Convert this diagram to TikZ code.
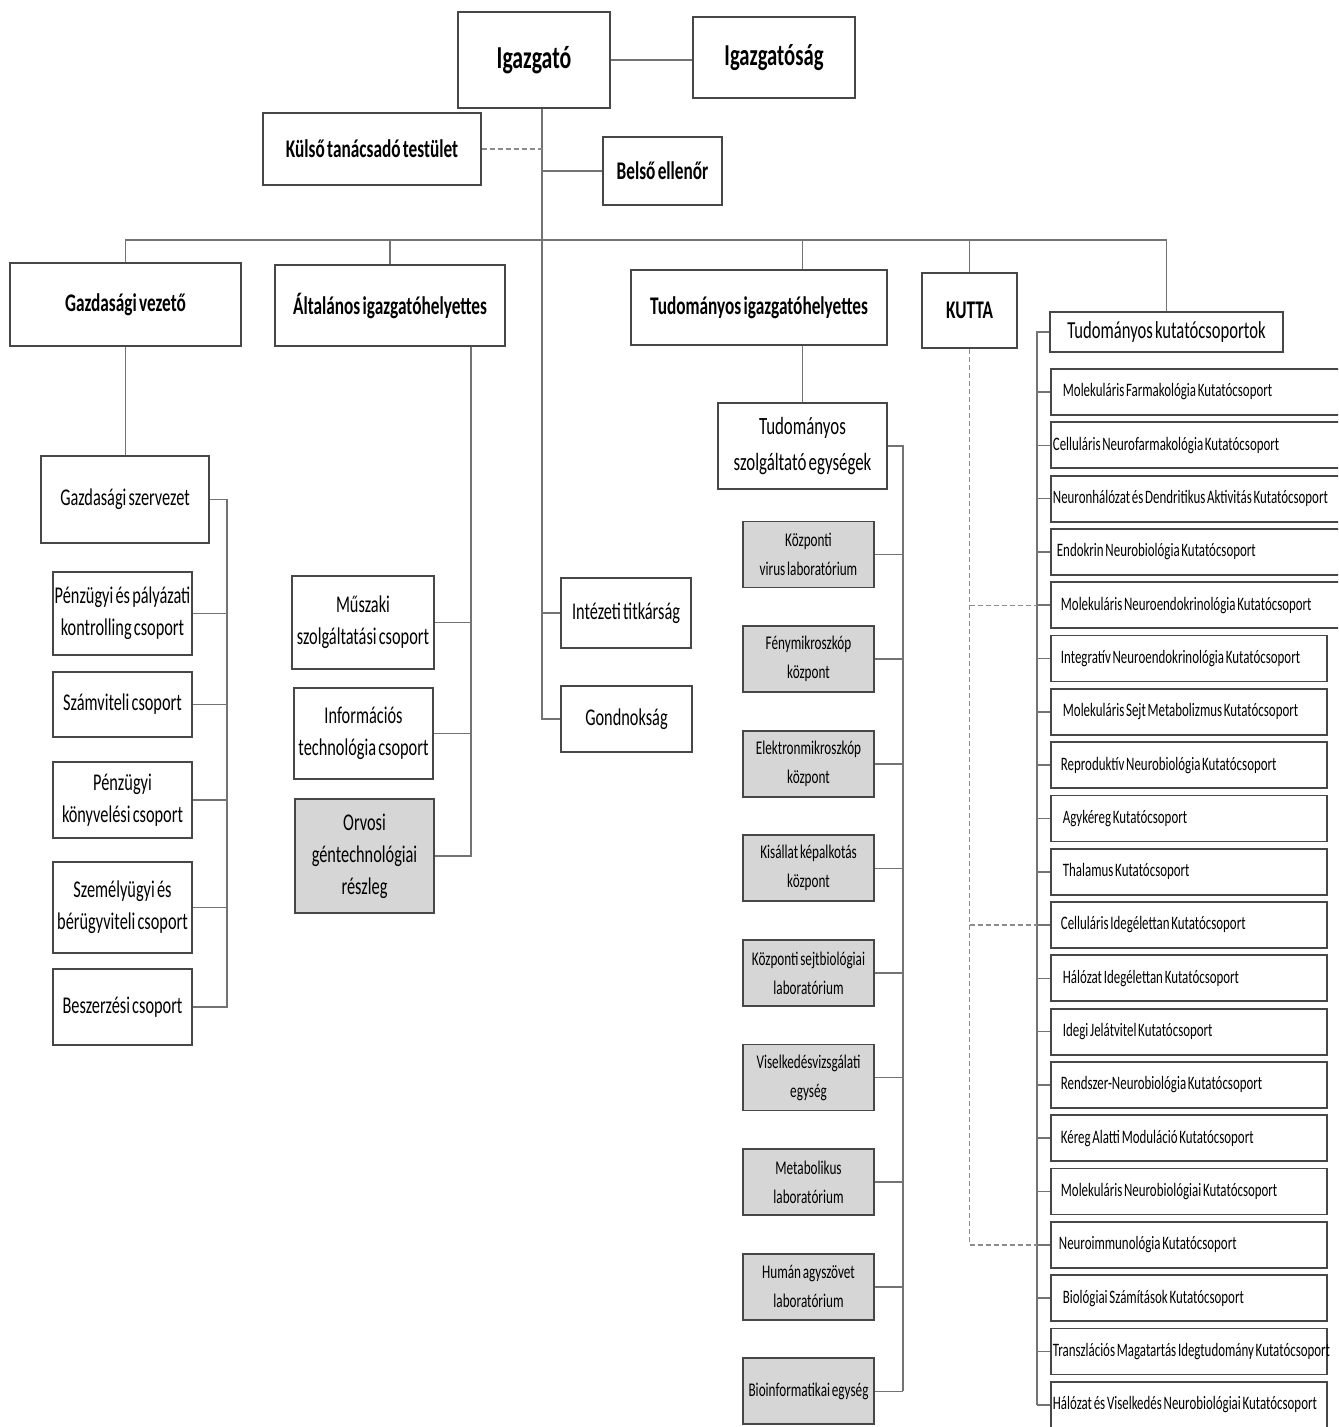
\documentclass[tikz,border=0pt]{standalone}
\usepackage{fontspec}
\setmainfont{Carlito}[FakeStretch=0.68,WordSpace=0.6]
\tikzset{
	box/.style={draw=black!72,line width=0.9pt,fill=white,inner sep=1pt,align=center},
	greybox/.style={box,fill=black!16},
	sz/.style n args={2}{minimum width=#1*0.5pt,minimum height=#2*0.5pt},
	top/.style={font=\fontsize{16}{19}\selectfont\bfseries},
	head/.style={font=\fontsize{12.7}{15}\selectfont\bfseries},
	sub/.style={font=\fontsize{12}{16}\selectfont},
	lab/.style={font=\fontsize{9.7}{14.5}\selectfont},
	grp/.style={font=\fontsize{9.5}{11}\selectfont,align=flush left,text width=(#1)*0.5pt},
	conn/.style={draw=black!55,line width=0.8pt},
	kuttaline/.style={draw=black!45,line width=0.7pt,dash pattern=on 2.5pt off 1.5pt}
}
\begin{document}
\begin{tikzpicture}[x=0.5pt,y=-0.5pt]
		\clip (0,0) rectangle (1338,1427);
		
		\node[box,top,sz={152}{96}] (igaz) at (534,60) {Igazgató};
		\node[box,top,sz={162}{81},font=\fontsize{15.2}{18}\selectfont\bfseries] (igazsag) at (774,57.5) {Igazgatóság};
		\node[box,head,sz={218}{72}] (kulso) at (372,149) {Külső tanácsadó testület};
		\node[box,head,sz={119}{68}] (belso) at (662.5,171) {Belső ellenőr};
		
		\node[box,head,sz={231}{83}] (gazdv) at (125.5,304.5) {Gazdasági vezető};
		\node[box,head,sz={230}{81}] (altal) at (390,305.5) {Általános igazgatóhelyettes};
		\node[box,head,sz={256}{75}] (tudigh) at (759,307.5) {Tudományos igazgatóhelyettes};
		\node[box,head,sz={95}{75}] (kutta) at (969.5,310.5) {KUTTA};
		\node[box,sub,sz={233}{40},font=\fontsize{12.2}{15}\selectfont] (tkcs) at (1166.5,332) {Tudományos kutatócsoportok};
		
		\node[box,sub,sz={168}{87}] (gszerv) at (125,499.5) {Gazdasági szervezet};
		\node[box,sub,sz={139}{83}] (pkontr) at (122.5,613.5) {Pénzügyi és pályázati\\kontrolling csoport};
		\node[box,sub,sz={139}{65}] (szamv) at (122.5,704.5) {Számviteli csoport};
		\node[box,sub,sz={139}{76}] (konyv) at (122.5,800) {Pénzügyi\\könyvelési csoport};
		\node[box,sub,sz={139}{91}] (szemely) at (122.5,907.5) {Személyügyi és\\bérügyviteli csoport};
		\node[box,sub,sz={139}{76}] (besz) at (122.5,1007) {Beszerzési csoport};
		
		\node[box,sub,sz={142}{93}] (muszaki) at (363,622.5) {Műszaki\\szolgáltatási csoport};
		\node[box,sub,sz={139}{91}] (infotech) at (363.5,733.5) {Információs\\technológia csoport};
		\node[greybox,sub,sz={139}{114}] (orvosi) at (364.5,856) {Orvosi\\géntechnológiai\\részleg};
		
		\node[box,sub,sz={130}{70}] (intez) at (626,613) {Intézeti titkárság};
		\node[box,sub,sz={131}{66}] (gond) at (626.5,719) {Gondnokság};
		
		\node[box,sub,sz={169}{86},font=\fontsize{12.4}{18}\selectfont] (tszolg) at (802.5,446) {Tudományos\\szolgáltató egységek};
		
		\coordinate (bus) at (542,240);
		\coordinate (grail) at (227,0);
		\coordinate (arail) at (471,0);
		\coordinate (srail) at (903,0);
		\coordinate (krail) at (1037,0);
		
		\draw[conn] (igaz.east) -- (igaz.east -| igazsag.west);
		\draw[conn] ([xshift=4pt]igaz.south) coordinate (trunk) -- (trunk |- gond.west) -- (gond.west);
		\draw[conn] (trunk |- belso.west) -- (belso.west);
		\draw[conn] (trunk |- intez.west) -- (intez.west);
		\draw[kuttaline] (kulso.east) -- (trunk |- kulso.east);
		
		\draw[conn] (gazdv.north) -- (gazdv.north |- bus) -- (bus -| tkcs.north) -- (tkcs.north);
		\draw[conn] (altal.north) -- (altal.north |- bus);
		\draw[conn] (tudigh.north -| tszolg.north) -- (tszolg.north |- bus);
		\draw[conn] (kutta.north) -- (kutta.north |- bus);
		\draw[conn] (tszolg.north) -- (tszolg.north |- tudigh.south);
		
		\draw[conn] (gszerv.north -| gazdv.south) -- (gazdv.south);
		\draw[conn] (gszerv.east) -- (gszerv.east -| grail) -- (besz.east -| grail) -- (besz.east);
		\foreach \n in {pkontr,szamv,konyv,szemely}
			\draw[conn] (\n.east) -- (\n.east -| grail);
		
		\draw[conn] (altal.south -| arail) -- (orvosi.east -| arail) -- (orvosi.east);
		\draw[conn] (muszaki.east) -- (muszaki.east -| arail);
		\draw[conn] (infotech.east) -- (infotech.east -| arail);
		
		\foreach \n/\txt [count=\i from 0] in {virus/{Központi\\virus laboratórium},
			feny/{Fénymikroszkóp\\központ},
			elektr/{Elektronmikroszkóp\\központ},
			kisallat/{Kisállat képalkotás\\központ},
			sejtbio/{Központi sejtbiológiai\\laboratórium},
			viselk/{Viselkedésvizsgálati\\egység},
			metab/{Metabolikus\\laboratórium},
			human/{Humán agyszövet\\laboratórium},
			bioinf/{Bioinformatikai egység}}{
			\node[greybox,lab,sz={131}{66}] (\n) at (808.5,{554.5+104.6*\i}) {\txt};
			\draw[conn] (\n.east) -- (\n.east -| srail);
		}
		\draw[conn] (tszolg.east) -- (tszolg.east -| srail) -- (bioinf.east -| srail);
		
		\foreach \pad/\txt [count=\i] in {6/Molekuláris Farmakológia Kutatócsoport,
			1/Celluláris Neurofarmakológia Kutatócsoport,
			1/Neuronhálózat és Dendritikus Aktivitás Kutatócsoport,
			3/Endokrin Neurobiológia Kutatócsoport,
			5/Molekuláris Neuroendokrinológia Kutatócsoport,
			5/Integratív Neuroendokrinológia Kutatócsoport,
			6/Molekuláris Sejt Metabolizmus Kutatócsoport,
			5/Reproduktív Neurobiológia Kutatócsoport,
			6/Agykéreg Kutatócsoport,
			6/Thalamus Kutatócsoport,
			5/Celluláris Idegélettan Kutatócsoport,
			6/Hálózat Idegélettan Kutatócsoport,
			6/Idegi Jelátvitel Kutatócsoport,
			5/Rendszer-Neurobiológia Kutatócsoport,
			5/Kéreg Alatti Moduláció Kutatócsoport,
			5/Molekuláris Neurobiológiai Kutatócsoport,
			4/Neuroimmunológia Kutatócsoport,
			6/Biológiai Számítások Kutatócsoport,
			1/Transzlációs Magatartás Idegtudomány Kutatócsoport,
			1/Hálózat és Viselkedés Neurobiológiai Kutatócsoport}{
			\ifnum\i<6
				\node[box,grp={300-4*\pad},inner xsep=\pad pt,minimum height=23pt,anchor=west] (grp\i) at (1050,{392+53.3*(\i-1)}) {\mbox{\txt}};
			\else
				\node[box,grp={276-4*\pad},inner xsep=\pad pt,minimum height=23pt,anchor=west] (grp\i) at (1050,{392+53.3*(\i-1)}) {\mbox{\txt}};
			\fi
			\draw[conn] (grp\i.west) -- (grp\i.west -| krail);
		}
		\draw[conn] (tkcs.west) -- (tkcs.west -| krail) -- (grp20.west -| krail);
		
		\draw[kuttaline] (kutta.south) -- (kutta.south |- grp17.west) -- (grp17.west -| krail);
		\draw[kuttaline] (kutta.south |- grp5.west) -- (grp5.west -| krail);
		\draw[kuttaline] (kutta.south |- grp11.west) -- (grp11.west -| krail);
	\end{tikzpicture}
\end{document}
